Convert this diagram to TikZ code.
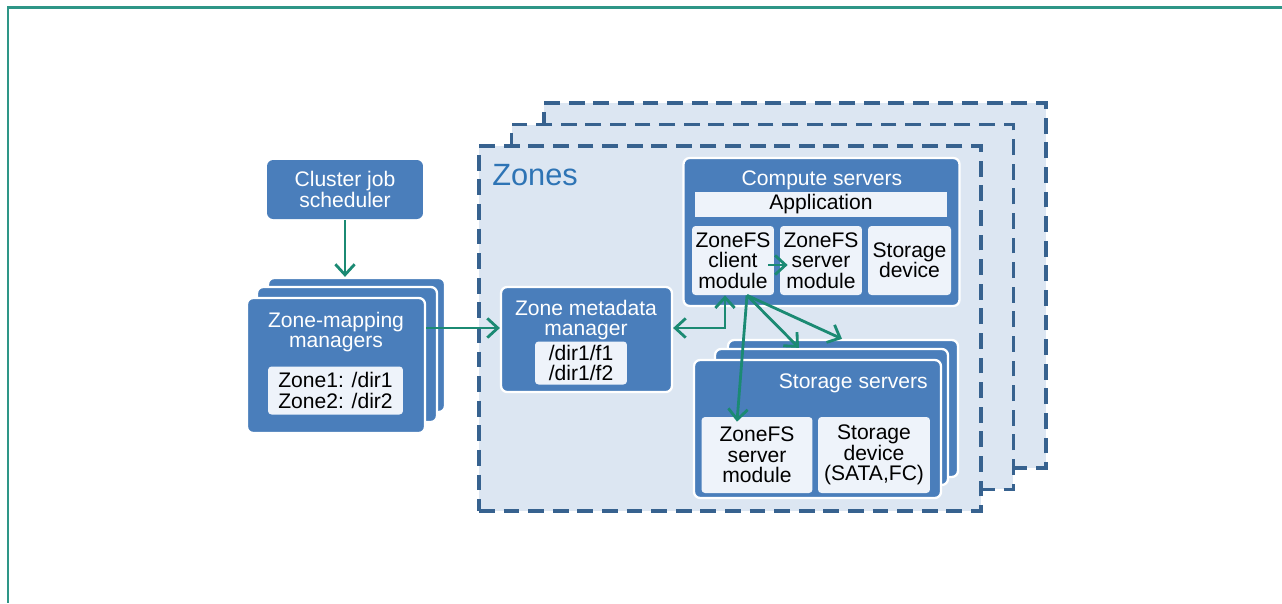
\documentclass[tikz,border=0pt]{standalone}
\usepackage{fontspec}
\setmainfont{Liberation Sans}
\usetikzlibrary{arrows.meta,calc}
\definecolor{boxblue}{HTML}{4A7EBB}
\definecolor{paleblue}{HTML}{EEF3FA}
\definecolor{zonefill}{HTML}{DCE6F2}
\definecolor{zonedash}{HTML}{37628F}
\definecolor{zonetext}{HTML}{2E74B5}
\definecolor{flowteal}{HTML}{1B8A73}
\definecolor{frameteal}{HTML}{2E9687}

\begin{document}
\begin{tikzpicture}[x=.02cm,y=-.02cm,font=\fontsize{12}{11.6}\selectfont,
 >={Straight Barb[length=6pt,width=11pt]},
 bluebox/.style={draw=white,line width=1.3pt,fill=boxblue,rounded corners=3.5pt,inner sep=0pt},
 palebox/.style={fill=paleblue,rounded corners=2pt,align=center,inner sep=0pt},
 whitetext/.style={text=white,align=center,inner sep=0pt},
 zone/.style={draw=zonedash,fill=zonefill,line width=2.2pt,dash pattern=on 9pt off 5pt,
  minimum width=10.04cm,minimum height=7.3cm,inner sep=0pt},
 flow/.style={draw=flowteal,line width=1.6pt,->}]
 \useasboundingbox (0,0) rectangle (1282,603);
 \draw[frameteal,line width=1.5pt] (1282,7.5)--(8,7.5)--(8,603);
 \node[bluebox,draw=none,minimum width=3.12cm,minimum height=1.18cm,whitetext] (sched) at (345,189.5) {Cluster job\\scheduler};
 \node[bluebox,minimum width=3.54cm,minimum height=2.68cm] (mgr3) at (356.5,345) {};
 \node[bluebox,minimum width=3.6cm,minimum height=2.7cm] (mgr2) at (347,354.5) {};
 \node[bluebox,minimum width=3.56cm,minimum height=2.7cm] (mgr) at (336,365.5) {};
 \node[whitetext] (mgrtitle) at (336,332) {Zone-mapping\\managers};
 \node[palebox,minimum width=2.7cm,minimum height=.96cm] (zonemap) at (335.5,390.5) {Zone1: /dir1\\Zone2: /dir2};
 \node[zone] (zone3) at (795,285.5) {};
 \node[zone] (zone2) at (762.5,307) {};
 \node[zone] (zone1) at (730,328.5) {};
 \node[anchor=base west,font=\fontsize{17.5}{17.5}\selectfont,text=zonetext,inner sep=0pt] (zonetitle) at (492,185) {Zones};
 \node[bluebox,minimum width=3.42cm,minimum height=2.1cm] (meta) at (586.5,339.5) {};
 \node[whitetext] (metatitle) at (586,320) {Zone metadata\\manager};
 \node[palebox,minimum width=1.84cm,minimum height=.86cm] (metafiles) at (581,363) {/dir1/f1\\/dir1/f2};
 \node[bluebox,minimum width=5.52cm,minimum height=2.96cm] (comp) at (821.5,232) {};
 \node[whitetext] (comptitle) at (822,180) {Compute servers};
 \node[palebox,rounded corners=0pt,minimum width=5.04cm,minimum height=.5cm] (app) at (821,204.5) {Application};
 \node[palebox,minimum width=1.64cm,minimum height=1.38cm] (client) at (733,260.5) {ZoneFS\\client\\module};
 \node[palebox,minimum width=1.64cm,minimum height=1.38cm] (csrv) at (821,260.5) {ZoneFS\\server\\module};
 \node[palebox,minimum width=1.66cm,minimum height=1.38cm] (cdev) at (909.5,260.5) {Storage\\device};
 \node[bluebox,minimum width=4.6cm,minimum height=2.74cm] (stor3) at (843,408.5) {};
 \node[bluebox,minimum width=4.66cm,minimum height=2.72cm] (stor2) at (831.5,417) {};
 \node[bluebox,minimum width=4.94cm,minimum height=2.76cm] (stor) at (817.5,429) {};
 \node[whitetext,anchor=base east] (stortitle) at (928,388) {Storage servers};
 \node[palebox,minimum width=2.22cm,minimum height=1.52cm] (ssrv) at (757,455) {ZoneFS\\server\\module};
 \node[palebox,minimum width=2.24cm,minimum height=1.52cm] (sdev) at (874,455) {Storage\\device\\(SATA,FC)};
 \draw[flow] (sched.south) -- (sched.south |- mgr3.north);
 \coordinate (metain) at ($(meta.west)+(0,-11.5)$);
 \draw[flow] (mgr.east |- metain) -- (metain);
 \coordinate (metaout) at ($(meta.east)+(0,-11.5)$);
 \coordinate (clientin) at ($(client.south)+(-8,0)$);
 \draw[flow,<->] (metaout) -| (clientin);
 \coordinate (fork) at ($(client.south)+(14,0)$);
 \draw[flow] (fork) -- ($(ssrv.north)+(-20,5)$);
 \draw[flow] (fork) -- ($(stor2.north)+(-32.5,0)$);
 \draw[flow] (fork) -- ($(stor3.north)+(-1,0)$);
 \draw[flow] ($(client.east)+(-6,4.5)$) -- ($(csrv.west)+(8,4.5)$);
\end{tikzpicture}
\end{document}
